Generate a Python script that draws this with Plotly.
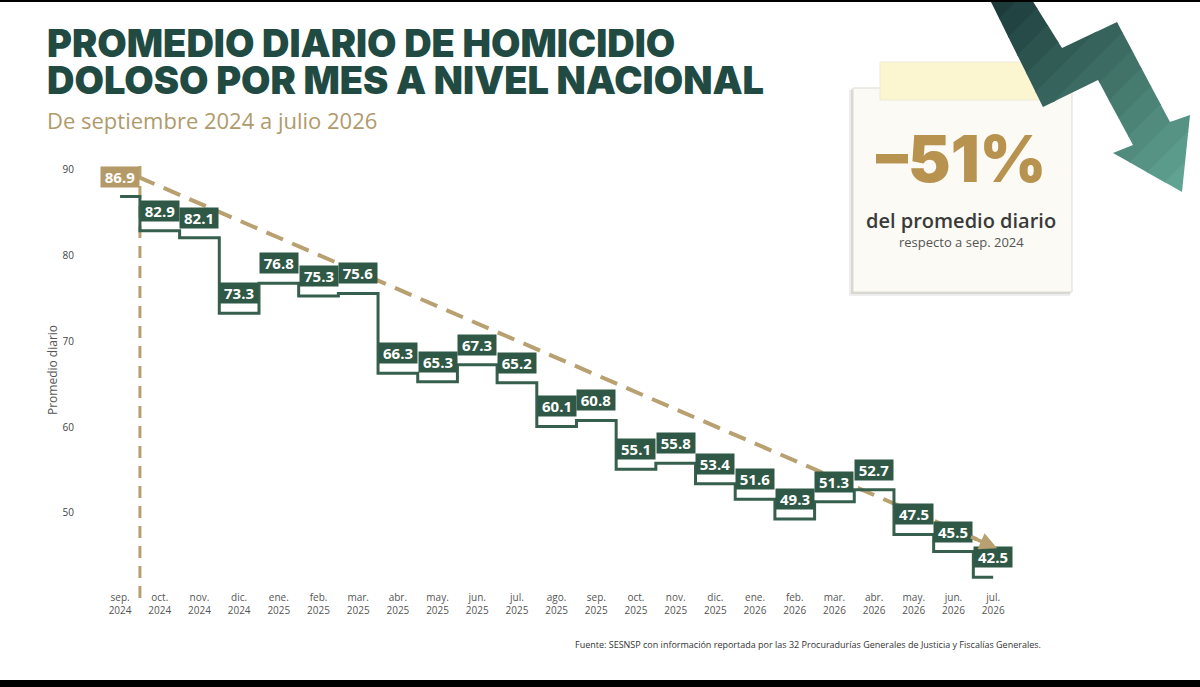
import plotly.graph_objects as go

# data
months = ["sep.", "oct.", "nov.", "dic.", "ene.", "feb.", "mar.", "abr.", "may.", "jun.", "jul.", "ago.",
          "sep.", "oct.", "nov.", "dic.", "ene.", "feb.", "mar.", "abr.", "may.", "jun.", "jul."]
years = ["2024"] * 4 + ["2025"] * 12 + ["2026"] * 7
values = [86.9, 82.9, 82.1, 73.3, 76.8, 75.3, 75.6, 66.3, 65.3, 67.3, 65.2, 60.1,
          60.8, 55.1, 55.8, 53.4, 51.6, 49.3, 51.3, 52.7, 47.5, 45.5, 42.5]
y_ticks = [50, 60, 70, 80, 90]
change_text = "–51%"

W, H = 1200, 687
L, R, T, B = 80, 185, 150, 97
PW, PH = W - L - R, H - T - B

GREEN = "#2f5846"
LINE = "#36604d"
GOLD = "#b59a69"
TITLE = "#214b42"


def px(x):
    return (x - L) / PW


def py(y):
    return (H - B - y) / PH


def clip(poly, a, b, c):
    # keep the part of poly where a*x + b*y <= c
    out = []
    for i in range(len(poly)):
        p, q = poly[i], poly[(i + 1) % len(poly)]
        fp, fq = a * p[0] + b * p[1] - c, a * q[0] + b * q[1] - c
        if fp <= 0:
            out.append(p)
        if fp * fq < 0:
            t = fp / (fp - fq)
            out.append((p[0] + t * (q[0] - p[0]), p[1] + t * (q[1] - p[1])))
    return out


def mix(c1, c2, t):
    a = [int(c1[i:i + 2], 16) for i in (1, 3, 5)]
    b = [int(c2[i:i + 2], 16) for i in (1, 3, 5)]
    return "#%02x%02x%02x" % tuple(round(a[k] + (b[k] - a[k]) * t) for k in range(3))


idx = list(range(len(values)))
ticktext = [m + "<br>" + y for m, y in zip(months, years)]

fig = go.Figure()

# trend line (dashed)
fig.add_trace(go.Scatter(x=[0.45, 22.0], y=[values[0] + 2.3, values[-1] + 3.6], mode="lines",
                         line=dict(color="#b8a070", width=4, dash="18px,10px"),
                         hoverinfo="skip", showlegend=False))

# step line
fig.add_trace(go.Scatter(x=idx, y=values, mode="lines", line_shape="hvh",
                         line=dict(color=LINE, width=3), showlegend=False))

annotations = []
for i, v in enumerate(values):
    annotations.append(dict(x=i, y=v, yshift=20, text="<b>%.1f</b>" % v, showarrow=False,
                            bgcolor=GOLD if i == 0 else GREEN, width=36, height=18, borderpad=1,
                            font=dict(family="Open Sans", size=15, color="white")))

# arrow at the end of the trend line
annotations.append(dict(x=22.1, y=values[-1] + 3.4, ax=21.4, ay=values[-1] + 4.8, axref="x", ayref="y",
                        xref="x", yref="y", text="", showarrow=True, arrowhead=2, arrowsize=1,
                        arrowwidth=3.5, arrowcolor="#b8a070"))

# titles
annotations += [
    dict(x=px(45), y=py(43), xref="paper", yref="paper", xanchor="left", yanchor="middle",
         text="PROMEDIO DIARIO DE HOMICIDIO", showarrow=False,
         font=dict(family="Inter", size=38, color=TITLE, weight=900)),
    dict(x=px(45), y=py(80), xref="paper", yref="paper", xanchor="left", yanchor="middle",
         text="DOLOSO POR MES A NIVEL NACIONAL", showarrow=False,
         font=dict(family="Inter", size=38, color=TITLE, weight=900)),
    dict(x=px(45), y=py(120), xref="paper", yref="paper", xanchor="left", yanchor="middle",
         text="De septiembre 2024 a julio 2026", showarrow=False,
         font=dict(family="Open Sans", size=22, color="#b09a6c")),
    dict(x=px(961), y=py(158), xref="paper", yref="paper", xanchor="center", yanchor="middle",
         text=change_text, showarrow=False,
         font=dict(family="Inter", size=64, color="#b8924f", weight=900)),
    dict(x=px(961), y=py(220), xref="paper", yref="paper", xanchor="center", yanchor="middle",
         text="del promedio diario", showarrow=False,
         font=dict(family="Open Sans", size=20, color="#3a3a3a", weight=600)),
    dict(x=px(961), y=py(242), xref="paper", yref="paper", xanchor="center", yanchor="middle",
         text="respecto a sep. 2024", showarrow=False,
         font=dict(family="Open Sans", size=13, color="#555555")),
    dict(x=px(808), y=py(644), xref="paper", yref="paper", xanchor="center", yanchor="middle",
         text="Fuente: SESNSP con información reportada por las 32 Procuradurías Generales de Justicia y Fiscalías Generales.",
         showarrow=False, font=dict(family="Open Sans", size=9, color="#333333")),
]

shapes = [
    # vertical dashed line at the start
    dict(type="line", xref="x", yref="paper", x0=0.5, x1=0.5, y0=py(598), y1=py(160),
         line=dict(color="#b8a070", width=3, dash="12px,8px"), layer="below"),
    # card shadow + card
    dict(type="rect", xref="paper", yref="paper", x0=px(849), x1=px(1070), y0=py(296), y1=py(90),
         fillcolor="rgba(0,0,0,0.07)", line=dict(width=0)),
    dict(type="rect", xref="paper", yref="paper", x0=px(851), x1=px(1071), y0=py(294), y1=py(89),
         fillcolor="rgba(0,0,0,0.09)", line=dict(width=0)),
    dict(type="rect", xref="paper", yref="paper", x0=px(853), x1=px(1072), y0=py(292), y1=py(88),
         fillcolor="#fbfaf4", line=dict(color="#dedbd0", width=1)),
    # tape
    dict(type="rect", xref="paper", yref="paper", x0=px(880), x1=px(1040), y0=py(100), y1=py(62),
         fillcolor="#fbf6d0", line=dict(color="#ecead8", width=1)),
]

# big zigzag arrow, drawn in diagonal bands to fake its gradient
arrow_pts = [(990, 0), (1032, 0), (1062, 48), (1117, 22), (1170, 122), (1190, 115), (1182, 192),
             (1113, 153), (1133, 145), (1098, 80), (1043, 107)]
s0, s1, nb = 990.0, 1374.0, 14
for k in range(nb):
    lo = s0 + (s1 - s0) * k / nb
    hi = s0 + (s1 - s0) * (k + 1) / nb + (1.5 if k < nb - 1 else 0)
    part = clip(clip(arrow_pts, 1, 1, hi), -1, -1, -lo)
    if len(part) < 3:
        continue
    col = mix("#1c3b3a", "#60a392", k / (nb - 1))
    path = "M " + " L ".join("%.4f,%.4f" % (px(a), py(b)) for a, b in part) + " Z"
    shapes.append(dict(type="path", xref="paper", yref="paper", path=path,
                       fillcolor=col, line=dict(width=0)))

shapes += [
    # black bands
    dict(type="rect", xref="paper", yref="paper", x0=px(0), x1=px(W), y0=py(H), y1=py(680),
         fillcolor="black", line=dict(width=0)),
    dict(type="rect", xref="paper", yref="paper", x0=px(0), x1=px(W), y0=py(2), y1=py(0),
         fillcolor="black", line=dict(width=0)),
]

fig.update_layout(
    width=W, height=H,
    margin=dict(l=L, r=R, t=T, b=B),
    paper_bgcolor="white", plot_bgcolor="white",
    showlegend=False,
    annotations=annotations,
    shapes=shapes,
    font=dict(family="Open Sans", color="#444444"),
)
fig.update_xaxes(range=[-1.01, 22.55], tickvals=idx, ticktext=ticktext, showgrid=False, zeroline=False,
                 showline=False, ticks="", tickfont=dict(size=10, color="#555555"))
fig.update_yaxes(range=[41.02, 92.33], tickvals=y_ticks, showgrid=False, zeroline=False, showline=False,
                 ticks="", ticklabelstandoff=5, tickfont=dict(size=10, color="#444444"),
                 title=dict(text="Promedio diario", font=dict(size=12, color="#555555"), standoff=2))

fig.write_html("out.html", config={"displayModeBar": False},
               post_script="document.body.style.margin = '0px';")
